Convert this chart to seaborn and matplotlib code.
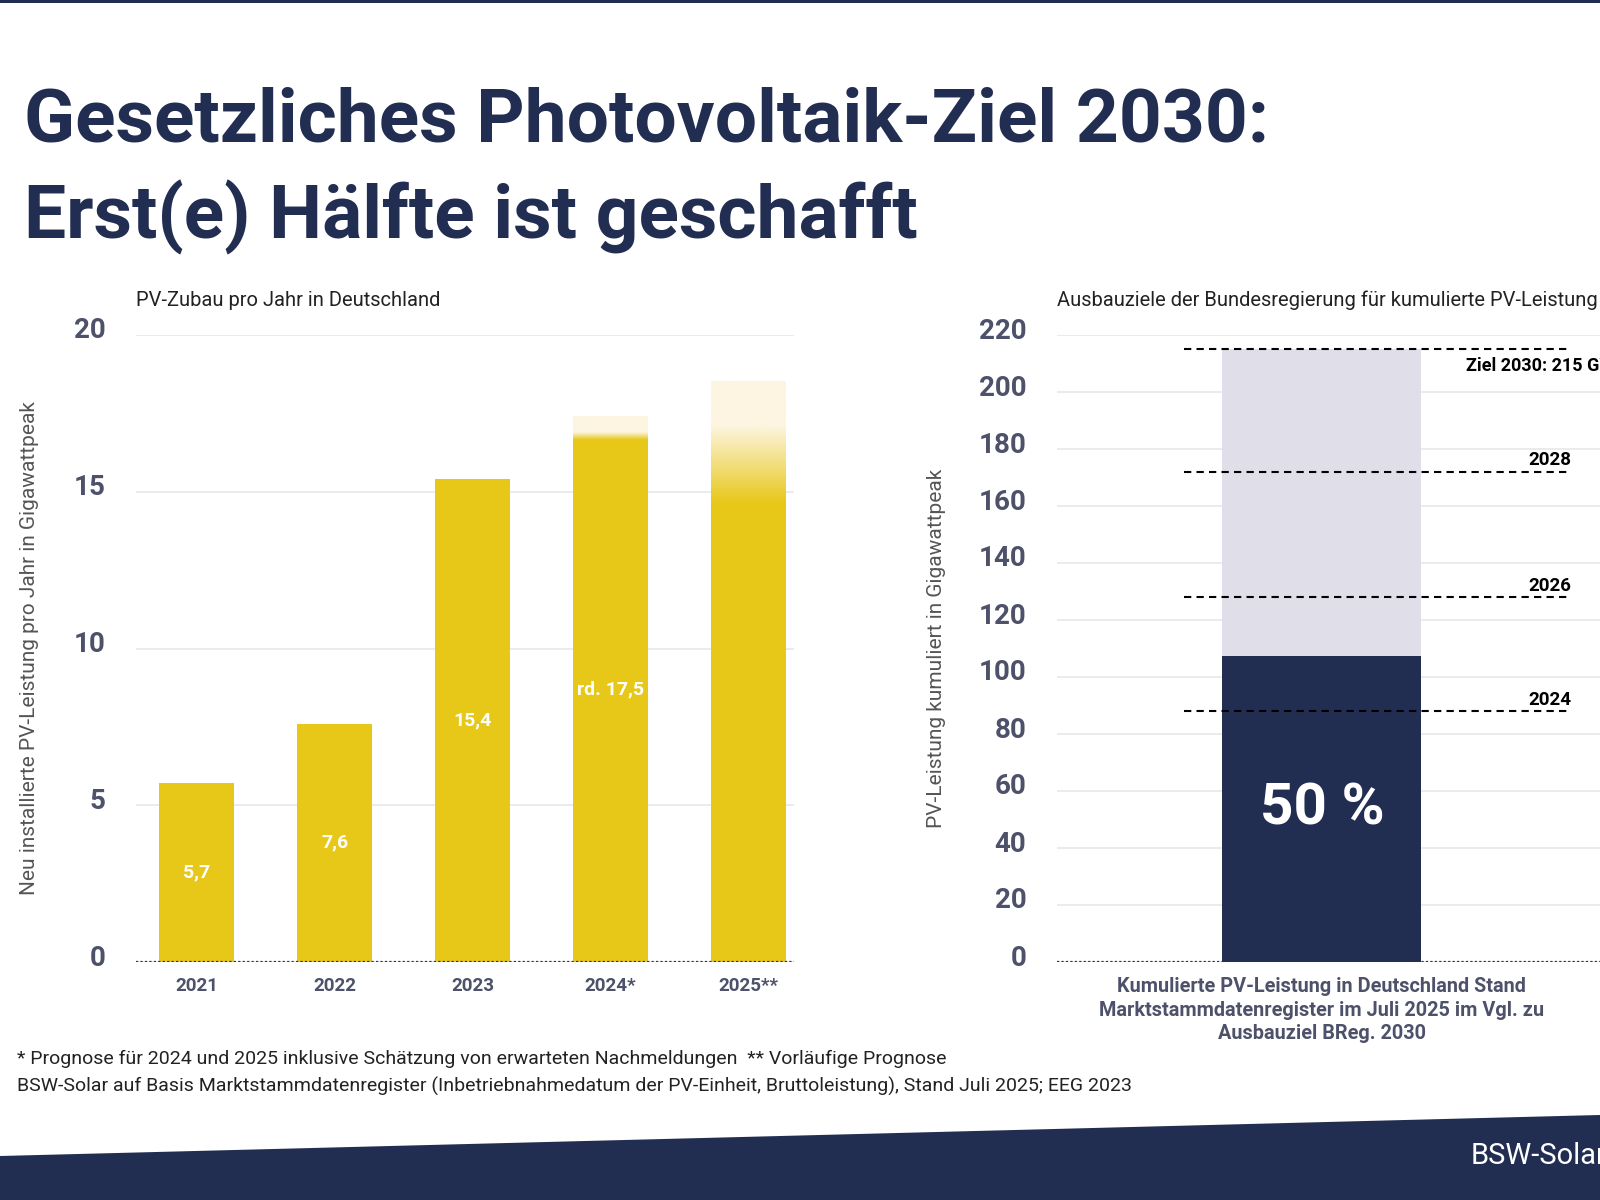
import numpy as np
import pandas as pd
import matplotlib
matplotlib.use("Agg")
import matplotlib.pyplot as plt
from matplotlib.patches import Polygon, Rectangle
from matplotlib.colors import to_rgba
from matplotlib.transforms import ScaledTranslation
import seaborn as sns

# --- data -------------------------------------------------------------
years = ["2021", "2022", "2023", "2024*", "2025**"]
zubau = [5.7, 7.6, 15.4, 17.4, 18.5]
zubau_labels = ["5,7", "7,6", "15,4", "rd. 17,5", ""]
# where the solid colour of the forecast bars starts to fade (GW)
fade_from = [None, None, None, 16.65, 14.6]
fade_to = [None, None, None, 16.9, 17.1]

kumuliert_label = "Kumulierte PV-Leistung in Deutschland Stand\nMarktstammdatenregister im Juli 2025 im Vgl. zu\nAusbauziel BReg. 2030"
kumuliert_ist = 107.5
ziel_2030 = 215
ziel_years = ["2024", "2026", "2028", "Ziel 2030: 215 GW"]
ziel_values = [88, 128, 172, 215]
anteil_text = "50 %"

# --- style ------------------------------------------------------------
sns.set_style("white")
plt.rcParams["font.family"] = ["Roboto", "DejaVu Sans"]

NAVY = "#222d52"
YELLOW = "#e7c717"
CREAM = "#fdf5e1"
LIGHT = "#dfdee9"
TICK = "#4d5169"
GRID = "#e8e8e8"

fig = plt.figure(figsize=(16, 12), dpi=100)

# top line and bottom banner
fig.add_artist(Rectangle((0, 1 - 3 / 1200), 1, 3 / 1200, transform=fig.transFigure,
                         color=NAVY, lw=0))
fig.add_artist(Polygon([(0, 1 - 1156 / 1200), (1, 1 - 1115 / 1200), (1, 0), (0, 0)],
                       closed=True, transform=fig.transFigure, color=NAVY, lw=0))
fig.text(1471 / 1600, 1 - 1156 / 1200, "BSW-Solar", color="white", fontsize=21,
         va="center", ha="left")

# title
fig.text(24 / 1600, 1 - 121 / 1200, "Gesetzliches Photovoltaik-Ziel 2030:",
         fontsize=54, fontweight="bold", color=NAVY, va="center")
fig.text(24 / 1600, 1 - 217 / 1200, "Erst(e) Hälfte ist geschafft",
         fontsize=54, fontweight="bold", color=NAVY, va="center")

# --- left chart -------------------------------------------------------
ax1 = fig.add_axes([136 / 1600, 1 - 962 / 1200, 658 / 1600, 627 / 1200])
df1 = pd.DataFrame({"jahr": years, "gw": zubau})
sns.barplot(data=df1, x="jahr", y="gw", color=YELLOW, saturation=1, width=0.54, ax=ax1,
            zorder=2, linewidth=0)

# gradient tops for the forecast bars
for patch, f0, f1, top in zip(ax1.patches, fade_from, fade_to, zubau):
    if f0 is None:
        continue
    ys = np.linspace(f0, top, 200)
    c0 = np.array(to_rgba(YELLOW))
    c1 = np.array(to_rgba(CREAM))
    t = np.clip((ys - f0) / (f1 - f0), 0, 1)[:, None]
    img = (c0 * (1 - t) + c1 * t)[:, None, :]
    x0 = patch.get_x()
    ax1.imshow(img, extent=[x0, x0 + patch.get_width(), f0, top], origin="lower",
               aspect="auto", zorder=3, interpolation="bilinear")
ax1.set_xlim(-0.44, 4.33)
ax1.set_ylim(0, 20)
ax1.set_yticks([0, 5, 10, 15, 20])

for i, (v, lab) in enumerate(zip(zubau, zubau_labels)):
    if lab:
        ax1.text(i, v / 2, lab, color="white", fontsize=14, fontweight="bold",
                 ha="center", va="center", zorder=4)

ax1.text(0, 1.055, "PV-Zubau pro Jahr in Deutschland", transform=ax1.transAxes,
         fontsize=14.5, color="#222222", va="center", ha="left")

# --- right chart ------------------------------------------------------
ax2 = fig.add_axes([1057 / 1600, 1 - 962 / 1200, 543 / 1600, 627 / 1200])
sns.barplot(x=[kumuliert_label], y=[ziel_2030], color=LIGHT, saturation=1, width=0.8,
            ax=ax2, zorder=2, linewidth=0)
sns.barplot(x=[kumuliert_label], y=[kumuliert_ist], color=NAVY, saturation=1, width=0.8,
            ax=ax2, zorder=2, linewidth=0)
ax2.set_ylim(0, 220)
ax2.set_xlim(-1.065, 1.118)
ax2.set_yticks(np.arange(0, 221, 20))

ax2.text(0, kumuliert_ist / 2, anteil_text, color="white", fontsize=42,
         fontweight="bold", ha="center", va="center", zorder=4)

ytr = ax2.get_yaxis_transform()
for lab, v in zip(ziel_years, ziel_values):
    ax2.axhline(v, xmin=0.234, xmax=0.947, color="black", lw=1.5,
                linestyle=(0, (3.5, 2.5)), zorder=5)
    if lab.startswith("Ziel"):
        ax2.text(0.753, v - 6, lab, transform=ytr, fontsize=13, fontweight="bold",
                 color="black", ha="left", va="center")
    else:
        ax2.text(0.947, v + 4, lab, transform=ytr, fontsize=13.5, fontweight="bold",
                 color="black", ha="right", va="center")

ax2.text(0, 1.055, "Ausbauziele der Bundesregierung für kumulierte PV-Leistung",
         transform=ax2.transAxes, fontsize=14.5, color="#222222", va="center", ha="left")

# --- common axis styling ----------------------------------------------
lift = ScaledTranslation(0, 7 / 100, fig.dpi_scale_trans)
for ax, ylab, lx, xsize in [
    (ax1, "Neu installierte PV-Leistung pro Jahr in Gigawattpeak", -0.147, 13.5),
    (ax2, "PV-Leistung kumuliert in Gigawattpeak", -0.204, 14.3),
]:
    sns.despine(ax=ax, left=True, bottom=True)
    ax.yaxis.grid(True, color=GRID, lw=1.2, zorder=0)
    ax.set_axisbelow(True)
    ax.axhline(0, color="#333333", lw=1.6, linestyle=(0, (1, 1)), zorder=6)
    ax.tick_params(axis="y", length=0, pad=22, labelsize=20, labelcolor=TICK)
    ax.tick_params(axis="x", length=0, pad=11, labelsize=xsize, labelcolor=TICK)
    for t in ax.get_yticklabels():
        t.set_fontweight("bold")
        t.set_transform(t.get_transform() + lift)
    for t in ax.get_xticklabels():
        t.set_fontweight("bold")
    ax.set_xlabel("")
    ax.set_ylabel(ylab, fontsize=15, color="#555555")
    ax.yaxis.set_label_coords(lx, 0.5)

for t in ax2.get_xticklabels():
    t.set_linespacing(1.3)

# footnotes
fig.text(17 / 1600, 1 - 1059 / 1200,
         "* Prognose für 2024 und 2025 inklusive Schätzung von erwarteten Nachmeldungen  ** Vorläufige Prognose",
         fontsize=14, color="#222222", va="center")
fig.text(17 / 1600, 1 - 1086 / 1200,
         "BSW-Solar auf Basis Marktstammdatenregister (Inbetriebnahmedatum der PV-Einheit, Bruttoleistung), Stand Juli 2025; EEG 2023",
         fontsize=14, color="#222222", va="center")

fig.savefig("out.png", dpi=100)
